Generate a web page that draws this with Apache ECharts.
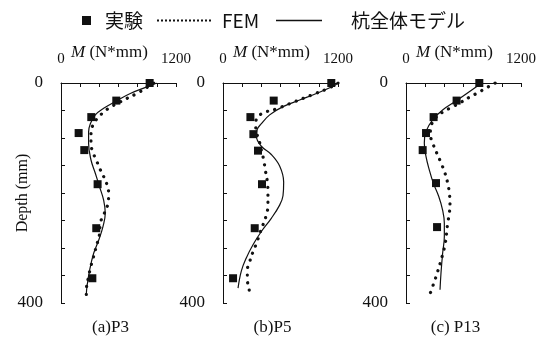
<!DOCTYPE html>
<html>
<head>
<meta charset="utf-8">
<script src="https://cdn.jsdelivr.net/npm/echarts@6/dist/echarts.min.js"></script>
<style>
  html, body { margin: 0; padding: 0; background: #fff; }
  #chart { width: 550px; height: 338px; }
</style>
</head>
<body>
<div id="chart"></div>
<script>
// 軸の範囲とラベル
const mRange = [0, 1200];
const depthRange = [0, 400];
const panelNames = ['(a)P3', '(b)P5', '(c) P13'];
const seriesNames = ['実験', 'FEM', '杭全体モデル'];

// (a) P3
const p3ExpDepth = [0, 32, 62, 91, 122, 184, 264, 355];
const p3ExpM = [925, 577, 316, 184, 243, 382, 368, 327];
const p3FemDepth = [0, 10, 19, 28, 36, 44, 53, 62, 74, 91, 110, 125, 140, 155, 170, 185, 200, 219, 237, 255, 274, 289, 304, 322, 337, 352, 373, 388];
const p3FemM = [966, 879, 793, 688, 601, 514, 445, 392, 340, 313, 313, 330, 368, 403, 445, 480, 497, 490, 452, 410, 403, 382, 358, 330, 306, 288, 266, 264];
const p3PileDepth = [0, 7, 19, 32, 46, 58, 74, 89, 110, 140, 164, 189, 213, 237, 261, 286, 310, 340, 370, 385];
const p3PileM = [1000, 897, 723, 584, 445, 358, 306, 288, 288, 313, 358, 403, 445, 462, 438, 393, 340, 299, 271, 264];

// (b) P5
const p5ExpDepth = [0, 32, 62, 93, 123, 184, 264, 355];
const p5ExpM = [1130, 529, 286, 317, 365, 407, 331, 105];
const p5FemDepth = [0, 10, 22, 34, 46, 58, 74, 89, 104, 122, 140, 159, 180, 200, 222, 240, 258, 274, 289, 307, 325, 340, 358, 373, 387];
const p5FemM = [1200, 1096, 922, 748, 574, 383, 341, 348, 376, 400, 425, 442, 463, 469, 469, 452, 417, 383, 355, 313, 278, 254, 254, 271, 278];
const p5PileDepth = [0, 6, 19, 31, 43, 58, 74, 85, 97, 115, 130, 151, 180, 205, 222, 246, 270, 294, 318, 342, 373];
const p5PileM = [1200, 1148, 974, 800, 626, 487, 400, 355, 348, 400, 504, 591, 633, 626, 591, 504, 400, 313, 243, 191, 157];

// (c) P13
const p13ExpDepth = [0, 32, 62, 91, 122, 182, 262];
const p13ExpM = [765, 528, 288, 209, 174, 313, 324];
const p13FemDepth = [0, 10, 18, 26, 35, 44, 53, 64, 79, 94, 109, 127, 145, 164, 182, 200, 219, 237, 255, 273, 294, 312, 327, 343, 358, 370, 382];
const p13FemM = [930, 827, 747, 660, 573, 479, 382, 306, 261, 254, 278, 320, 365, 407, 435, 452, 459, 452, 435, 424, 407, 382, 358, 330, 302, 278, 254];
const p13PileDepth = [0, 32, 49, 67, 88, 109, 134, 158, 182, 206, 231, 255, 279, 310, 346, 376];
const p13PileM = [790, 528, 382, 278, 209, 191, 209, 243, 285, 341, 382, 400, 400, 382, 365, 355];

const panels = [
    { exp: [p3ExpM, p3ExpDepth], fem: [p3FemM, p3FemDepth], pile: [p3PileM, p3PileDepth] },
    { exp: [p5ExpM, p5ExpDepth], fem: [p5FemM, p5FemDepth], pile: [p5PileM, p5PileDepth] },
    { exp: [p13ExpM, p13ExpDepth], fem: [p13FemM, p13FemDepth], pile: [p13PileM, p13PileDepth] }
];

const gridLeft = [61, 223, 406];
const gridTop = 83, gridW = 115, gridH = 220;
const serif = '"Liberation Serif", "Times New Roman", serif';
const cjk = '"Noto Sans CJK JP", "Noto Sans", sans-serif';
const ink = '#111';

function pairs(xs, ys) {
    return xs.map((v, i) => [v, ys[i]]);
}

// 凡例用アイコン(点線と実線)
let dotIcon = 'path://';
for (let k = 0; k < 14; k++) {
    dotIcon += 'M' + (k * 4) + ',0h2v2h-2z';
}
const lineIcon = 'path://M0,0H46V1.5H0Z';

const chart = echarts.init(document.getElementById('chart'), null, { renderer: 'canvas' });

const grid = [], xAxis = [], yAxis = [], series = [], graphic = [];
panels.forEach((p, i) => {
    grid.push({ left: gridLeft[i], top: gridTop, width: gridW, height: gridH });
    xAxis.push({
        gridIndex: i,
        type: 'value',
        position: 'top',
        min: mRange[0],
        max: mRange[1],
        interval: 200,
        axisLine: { lineStyle: { color: ink, width: 1 } },
        axisTick: { inside: true, length: 4, lineStyle: { color: ink } },
        splitLine: { show: false },
        axisLabel: {
            margin: 16,
            fontFamily: serif,
            fontSize: 15,
            color: ink,
            formatter: v => (mRange.indexOf(v) >= 0 ? String(v) : '')
        },
        name: '{i|M} (N*mm)',
        nameLocation: 'middle',
        nameGap: 22,
        nameMoveOverlap: false,
        nameTextStyle: {
            fontFamily: serif,
            fontSize: 17,
            color: ink,
            padding: [0, 18, 0, 0],
            rich: { i: { fontStyle: 'italic', fontFamily: serif, fontSize: 17, color: ink } }
        }
    });
    yAxis.push({
        gridIndex: i,
        type: 'value',
        inverse: true,
        min: depthRange[0],
        max: depthRange[1],
        interval: 50,
        axisLine: { show: true, lineStyle: { color: ink, width: 1 } },
        axisTick: { show: true, inside: true, length: 4, lineStyle: { color: ink } },
        splitLine: { show: false },
        axisLabel: {
            margin: 18,
            fontFamily: serif,
            fontSize: 17,
            color: ink,
            formatter: v => (depthRange.indexOf(v) >= 0 ? String(v) : '')
        },
        name: i === 0 ? 'Depth (mm)' : '',
        nameLocation: 'middle',
        nameGap: 30,
        nameMoveOverlap: false,
        nameTextStyle: { fontFamily: serif, fontSize: 16, color: ink }
    });
    series.push({
        name: seriesNames[1],
        type: 'line',
        xAxisIndex: i,
        yAxisIndex: i,
        data: pairs(p.fem[0], p.fem[1]),
        smooth: 0.4,
        symbol: 'none',
        color: ink,
        lineStyle: { color: ink, width: 3.2, type: [0.1, 7.5], cap: 'round' },
        z: 2
    });
    series.push({
        name: seriesNames[2],
        type: 'line',
        xAxisIndex: i,
        yAxisIndex: i,
        data: pairs(p.pile[0], p.pile[1]),
        smooth: 0.4,
        symbol: 'none',
        color: ink,
        lineStyle: { color: ink, width: 1.2 },
        z: 3
    });
    series.push({
        name: seriesNames[0],
        type: 'scatter',
        xAxisIndex: i,
        yAxisIndex: i,
        data: pairs(p.exp[0], p.exp[1]),
        symbol: 'rect',
        symbolSize: 8,
        itemStyle: { color: ink, opacity: 1 },
        z: 4
    });
    graphic.push({
        type: 'text',
        x: gridLeft[i] + gridW / 2 - 8,
        y: 328,
        style: {
            text: panelNames[i],
            font: '17px ' + serif,
            fill: ink,
            textAlign: 'center',
            textVerticalAlign: 'middle'
        }
    });
});

const legendText = { fontFamily: cjk, fontSize: 19, color: ink };

chart.setOption({
    backgroundColor: '#fff',
    animation: false,
    legend: [
        {
            data: [seriesNames[0]], left: 77, top: 6, icon: 'rect',
            itemWidth: 9, itemHeight: 9,
            itemStyle: { color: ink, opacity: 1 },
            textStyle: Object.assign({ padding: [0, 0, 0, 9] }, legendText)
        },
        {
            data: [seriesNames[1]], left: 152, top: 6, icon: dotIcon,
            itemWidth: 54, itemHeight: 2,
            itemStyle: { color: ink },
            textStyle: Object.assign({ padding: [0, 0, 0, 6] }, legendText)
        },
        {
            data: [seriesNames[2]], left: 271, top: 6, icon: lineIcon,
            itemWidth: 46, itemHeight: 1.5,
            itemStyle: { color: ink },
            textStyle: Object.assign({ padding: [0, 0, 0, 24] }, legendText)
        }
    ],
    grid: grid,
    xAxis: xAxis,
    yAxis: yAxis,
    series: series,
    graphic: graphic
});
</script>
</body>
</html>
